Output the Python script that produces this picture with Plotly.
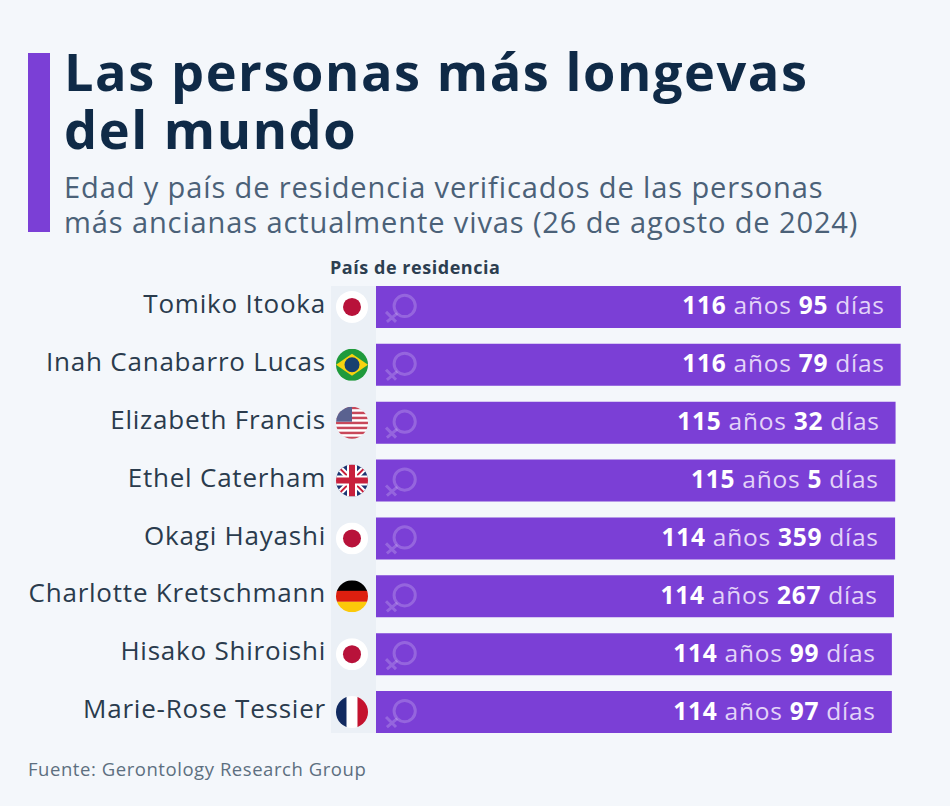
from urllib.parse import quote

import plotly.graph_objects as go

# Datos
nombres = ["Tomiko Itooka", "Inah Canabarro Lucas", "Elizabeth Francis", "Ethel Caterham",
           "Okagi Hayashi", "Charlotte Kretschmann", "Hisako Shiroishi", "Marie-Rose Tessier"]
anios = [116, 116, 115, 115, 114, 114, 114, 114]
dias = [95, 79, 32, 5, 359, 267, 99, 97]
paises = ["jp", "br", "us", "gb", "jp", "de", "jp", "fr"]

W, H = 950, 806
M_L, M_R, M_T, M_B = 376, 30, 278, 65
VIOLETA = "#7b3fd6"
FONDO = "#f4f7fb"
FUENTE = "Open Sans"


def px_x(p):
    return (p - M_L) / (W - M_L - M_R)


def px_y(p):
    return 1 - (p - M_T) / (H - M_T - M_B)


def svg_uri(body):
    svg = f'<svg xmlns="http://www.w3.org/2000/svg" width="64" height="64" viewBox="0 0 64 64">{body}</svg>'
    return "data:image/svg+xml," + quote(svg)


def bandera(body):
    return svg_uri(f'<defs><clipPath id="c"><circle cx="32" cy="32" r="32"/></clipPath></defs>'
                   f'<g clip-path="url(#c)">{body}</g>')


rayas = "".join(f'<rect y="{i * 10}" width="64" height="5" fill="#c8485a"/>' for i in range(7))
BANDERAS = {
    "jp": bandera('<rect width="64" height="64" fill="#fff"/><circle cx="32" cy="32" r="18" fill="#b8123a"/>'),
    "br": bandera('<rect width="64" height="64" fill="#1f9a3c"/><path d="M0 32L32 10L64 32L32 54Z" fill="#f6d30f"/>'
                  '<circle cx="32" cy="32" r="15" fill="#17406f"/>'),
    "us": bandera('<rect width="64" height="64" fill="#fff"/>' + rayas + '<rect width="32" height="30" fill="#5a6290"/>'),
    "gb": bandera('<rect width="64" height="64" fill="#1d3572"/>'
                  '<path d="M0 0L64 64M64 0L0 64" stroke="#fff" stroke-width="12"/>'
                  '<path d="M0 0L64 64M64 0L0 64" stroke="#c8203c" stroke-width="4"/>'
                  '<path d="M32 0V64M0 32H64" stroke="#fff" stroke-width="20"/>'
                  '<path d="M32 0V64M0 32H64" stroke="#c8203c" stroke-width="12"/>'),
    "de": bandera('<rect width="64" height="22" fill="#000"/><rect y="21" width="64" height="22" fill="#dd1f0f"/>'
                  '<rect y="43" width="64" height="21" fill="#fcc90a"/>'),
    "fr": bandera('<rect width="22" height="64" fill="#112a60"/><rect x="21" width="22" height="64" fill="#fff"/>'
                  '<rect x="43" width="21" height="64" fill="#c4122e"/>'),
}
# Simbolo femenino inclinado, blanco translucido
VENUS = svg_uri('<g fill="none" stroke="#fff" stroke-opacity="0.2" stroke-width="4.8">'
                '<circle cx="39.5" cy="30.4" r="17"/><path d="M27.5 42.4L11 56M9.6 40L25.6 56"/></g>')

fig = go.Figure(go.Bar(
    x=[a + d / 365 for a, d in zip(anios, dias)],
    y=nombres,
    orientation="h",
    marker=dict(color=VIOLETA, line=dict(width=0)),
    hoverinfo="skip",
))

# Etiquetas dentro de las barras
annotations = []
for i, nombre in enumerate(nombres):
    annotations.append(dict(
        x=anios[i] + dias[i] / 365, y=nombre, xref="x", yref="y", xanchor="right", align="right",
        xshift=-14, yshift=2, showarrow=False,
        text=f'<span style="color:#fff"><b>{anios[i]}</b></span> años '
             f'<span style="color:#fff"><b>{dias[i]}</b></span> días',
        font=dict(family=FUENTE, size=24.5, color="#e3d3f8"),
    ))

# Titulos y textos sueltos (x, y del centro de la linea en pixeles)
for texto, x, y, size, color in [
    ("<b>Las personas más longevas</b>", 62, 71, 52.3, "#0f2a47"),
    ("<b>del mundo</b>", 62, 128, 52.3, "#0f2a47"),
    ("Edad y país de residencia verificados de las personas", 62, 187, 29.05, "#4b6178"),
    ("más ancianas actualmente vivas (26 de agosto de 2024)", 62, 222, 29.05, "#4b6178"),
    ("<b>País de residencia</b>", 328, 267, 18, "#2c3e50"),
    ("Fuente: Gerontology Research Group", 26, 768, 18.5, "#5d6f80"),
]:
    annotations.append(dict(
        x=px_x(x), y=px_y(y), xref="paper", yref="paper", xanchor="left", yanchor="middle", align="left",
        showarrow=False, text=texto, font=dict(family=FUENTE, size=size, color=color),
    ))

images = []
for i, nombre in enumerate(nombres):
    images.append(dict(source=BANDERAS[paises[i]], xref="paper", yref="y", x=px_x(352), y=nombre,
                       sizex=32 / (W - M_L - M_R), sizey=0.56, xanchor="center", yanchor="middle",
                       sizing="contain", layer="above"))
    images.append(dict(source=VENUS, xref="paper", yref="y", x=px_x(400), y=nombre,
                       sizex=40 / (W - M_L - M_R), sizey=0.69, xanchor="center", yanchor="middle",
                       sizing="contain", layer="above"))

shapes = [
    # franja vertical del titulo
    dict(type="rect", xref="paper", yref="paper", x0=px_x(28), x1=px_x(50), y0=px_y(53), y1=px_y(232),
         fillcolor=VIOLETA, line_width=0),
    # columna gris de las banderas
    dict(type="rect", xref="paper", yref="paper", x0=px_x(331), x1=px_x(376), y0=px_y(286), y1=px_y(733),
         fillcolor="#ebf0f6", line_width=0, layer="below"),
]

fig.update_layout(
    width=W, height=H,
    margin=dict(l=M_L, r=M_R, t=M_T, b=M_B, pad=0),
    paper_bgcolor=FONDO, plot_bgcolor="rgba(0,0,0,0)",
    bargap=0.274,
    showlegend=False,
    annotations=annotations, images=images, shapes=shapes,
    xaxis=dict(range=[0, 120.5], visible=False, fixedrange=True),
    yaxis=dict(range=[7.5, -0.5], type="category", categoryorder="array", categoryarray=nombres,
               showgrid=False, showline=False, zeroline=False, ticks="", ticklabelstandoff=49,
               ticklabelshift=3,
               tickfont=dict(family=FUENTE, size=26, color="#2a3b4d"), fixedrange=True, automargin=False),
)

# plotly no tiene letter-spacing: se anade por CSS y se redibuja
post = """
document.body.style.margin = '0';
var st = document.createElement('style');
st.textContent = 'svg text { letter-spacing: 0.03em; }';
document.head.appendChild(st);
Plotly.redraw(document.getElementById('{plot_id}'));
"""
fig.write_html("out.html", post_script=post, config=dict(displayModeBar=False))
